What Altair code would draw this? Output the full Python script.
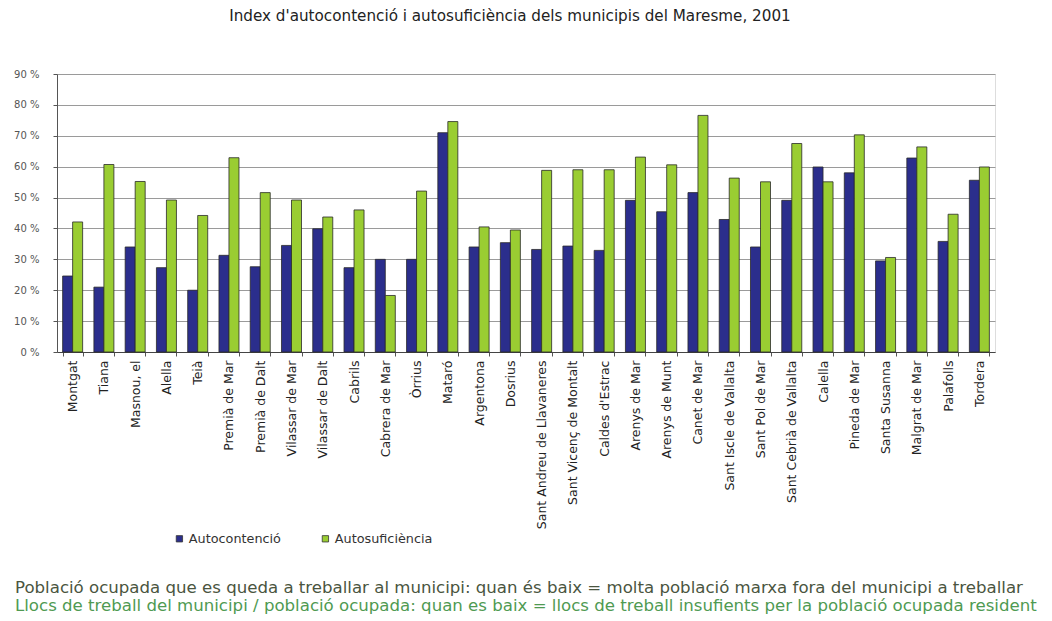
import altair as alt
import pandas as pd

municipis = [
    "Montgat", "Tiana", "Masnou, el", "Alella", "Teià", "Premià de Mar",
    "Premià de Dalt", "Vilassar de Mar", "Vilassar de Dalt", "Cabrils",
    "Cabrera de Mar", "Òrrius", "Mataró", "Argentona", "Dosrius",
    "Sant Andreu de Llavaneres", "Sant Vicenç de Montalt", "Caldes d'Estrac",
    "Arenys de Mar", "Arenys de Munt", "Canet de Mar", "Sant Iscle de Vallalta",
    "Sant Pol de Mar", "Sant Cebrià de Vallalta", "Calella", "Pineda de Mar",
    "Santa Susanna", "Malgrat de Mar", "Palafolls", "Tordera",
]
autocontencio = [
    24.6, 21.0, 34.0, 27.3, 20.0, 31.3, 27.6, 34.5, 39.9, 27.3,
    30.0, 30.0, 71.0, 34.0, 35.4, 33.2, 34.3, 32.9, 49.1, 45.4,
    51.6, 42.9, 34.0, 49.1, 59.9, 58.0, 29.5, 62.8, 35.8, 55.6,
]
autosuficiencia = [
    42.1, 60.7, 55.2, 49.2, 44.2, 62.9, 51.6, 49.2, 43.7, 46.0,
    18.3, 52.1, 74.6, 40.5, 39.5, 58.8, 59.0, 59.0, 63.1, 60.6,
    76.6, 56.3, 55.1, 67.5, 55.1, 70.3, 30.6, 66.4, 44.6, 59.9,
]
series = ["Autocontenció", "Autosuficiència"]
colors = ["#2b2e8c", "#9acd32"]
y_ticks = [0, 10, 20, 30, 40, 50, 60, 70, 80, 90]

title_text = "Index d'autocontenció i autosuficiència dels municipis del Maresme, 2001"
note1 = "Població ocupada que es queda a treballar al municipi: quan és baix = molta població marxa fora del municipi a treballar"
note2 = "Llocs de treball del municipi / població ocupada: quan es baix = llocs de treball insufients per la població ocupada resident"

rows = []
for m, a, s in zip(municipis, autocontencio, autosuficiencia):
    rows.append({"Municipi": m, "Serie": series[0], "Valor": a})
    rows.append({"Municipi": m, "Serie": series[1], "Valor": s})
df = pd.DataFrame(rows)

FONT = "DejaVu Sans"

bars = alt.Chart(df).mark_bar(stroke="#2a2a2a", strokeWidth=0.8).encode(
    x=alt.X(
        "Municipi:N",
        sort=municipis,
        title=None,
        scale=alt.Scale(paddingInner=0.36, paddingOuter=0.18),
        axis=alt.Axis(
            labelAngle=270,
            labelFont=FONT,
            labelFontSize=12.5,
            labelColor="#222222",
            labelPadding=4,
            tickBand="extent",
            tickColor="#555555",
            tickSize=4,
            domainColor="#444444",
            labelLimit=300,
        ),
    ),
    xOffset=alt.XOffset("Serie:N", sort=series),
    y=alt.Y(
        "Valor:Q",
        title=None,
        scale=alt.Scale(domain=[0, 90], nice=False),
        axis=alt.Axis(
            values=y_ticks,
            labelExpr="datum.value + ' %'",
            labelFont=FONT,
            labelFontSize=10,
            labelColor="#555555",
            labelPadding=14,
            gridColor="#9a9a9a",
            gridWidth=1,
            tickColor="#555555",
            tickSize=4,
            domainColor="#555555",
        ),
    ),
    color=alt.Color(
        "Serie:N",
        sort=series,
        scale=alt.Scale(domain=series, range=colors),
        legend=alt.Legend(
            title=None,
            orient="none",
            legendX=116,
            legendY=458,
            direction="horizontal",
            symbolType="square",
            symbolSize=40,
            symbolStrokeColor="#333333",
            symbolStrokeWidth=0.8,
            labelFont=FONT,
            labelFontSize=12.8,
            labelColor="#333333",
            labelOffset=3,
            columnPadding=38,
            labelLimit=200,
        ),
    ),
)

n1 = alt.Chart(pd.DataFrame({"t": [note1]})).mark_text(
    align="left", baseline="middle", font=FONT, fontSize=16.6, color="#4a5540"
).encode(text="t:N", x=alt.value(-42), y=alt.value(514))

n2 = alt.Chart(pd.DataFrame({"t": [note2]})).mark_text(
    align="left", baseline="middle", font=FONT, fontSize=16.6, color="#4f9a52"
).encode(text="t:N", x=alt.value(-42), y=alt.value(532))

chart = alt.layer(bars, n1, n2).properties(
    width=938,
    height=278,
    title=alt.TitleParams(
        title_text,
        font=FONT,
        fontSize=15.2,
        fontWeight="normal",
        color="#222222",
        anchor="middle",
        dx=-16,
        offset=45,
    ),
    autosize=alt.AutoSizeParams(type="none"),
    padding={"left": 57, "top": 74, "right": 57, "bottom": 269},
).configure_view(stroke=None).configure(background="white")

chart.save("out.html", embed_options={"renderer": "svg", "actions": False})
